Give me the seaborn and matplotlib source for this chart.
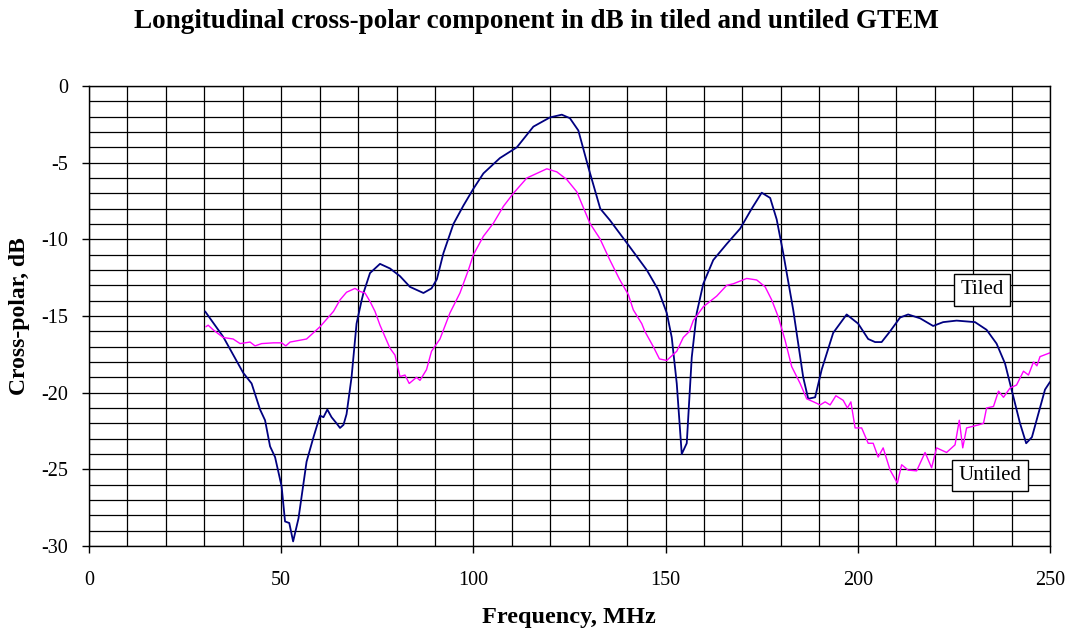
import matplotlib
matplotlib.use("Agg")
import matplotlib.pyplot as plt
import seaborn as sns
import numpy as np
import pandas as pd
from matplotlib.ticker import MultipleLocator

tiled_freq = [30.2, 34.9, 40.1, 42.3, 44.5, 45.8, 47.1, 48.4, 50.1, 51.0, 52.1, 53.1, 54.5,
              56.6, 58.4, 60.1, 61.0, 62.0, 63.1, 64.4, 65.3, 66.2, 67.0, 68.3, 69.6, 70.9,
              71.4, 73.1, 75.7, 78.3, 80.9, 83.5, 87.0, 89.1, 90.5, 92.2, 94.8, 97.4, 100.0,
              102.6, 106.9, 111.3, 115.6, 119.9, 123.0, 125.1, 127.3, 129.9, 133.0, 135.5,
              140.7, 145.1, 148.1, 150.3, 151.6, 152.9, 154.2, 155.5, 156.8, 158.1, 159.8,
              162.4, 165.9, 169.4, 172.4, 175.0, 177.2, 178.9, 180.6, 183.2, 185.8, 187.1,
              188.9, 190.6, 193.6, 197.1, 200.1, 202.7, 204.5, 206.2, 208.4, 211.0, 213.1,
              216.2, 219.6, 222.2, 225.7, 230.5, 233.5, 236.1, 238.3, 240.0, 242.2, 243.8,
              245.3, 247.0, 248.7, 250.0]
tiled_db = [-14.7, -16.35, -18.7, -19.4, -21.1, -21.8, -23.5, -24.2, -26.1, -28.4, -28.5, -29.7, -28.2,
            -24.5, -22.9, -21.5, -21.6, -21.1, -21.6, -22.0, -22.3, -22.1, -21.4, -19.0, -15.5, -14.0,
            -13.5, -12.2, -11.6, -11.9, -12.4, -13.1, -13.5, -13.2, -12.6, -10.9, -9.0, -7.8, -6.7,
            -5.7, -4.7, -4.0, -2.65, -2.05, -1.87, -2.1, -2.9, -5.3, -8.0, -8.75,
            -10.5, -12.0, -13.3, -14.8, -16.4, -19.4, -24.0, -23.3, -17.7, -14.8, -12.9,
            -11.35, -10.3, -9.3, -8.0, -6.96, -7.3, -8.7, -10.9, -14.6, -19.0, -20.4,
            -20.3, -18.5, -16.1, -14.9, -15.5, -16.5, -16.7, -16.7, -16.0, -15.1, -14.9,
            -15.15, -15.65, -15.4, -15.3, -15.4, -15.9, -16.8, -18.1, -19.8, -22.0, -23.3,
            -22.9, -21.35, -19.8, -19.3]

untiled_freq = [30.4, 31.0, 32.3, 34.9, 37.5, 39.3, 41.9, 43.2, 44.9, 48.0, 50.1, 51.2, 52.3,
                56.6, 60.1, 63.6, 65.3, 67.0, 69.2, 70.5, 71.8, 73.1, 74.4, 75.7, 77.0, 78.3,
                79.6, 80.9, 82.2, 83.3, 85.2, 86.1, 87.8, 89.1, 91.3, 93.9, 96.5, 98.7, 100.0,
                102.6, 105.2, 107.8, 110.4, 113.9, 116.5, 119.1, 121.7, 124.3, 126.9, 130.3,
                132.9, 135.5, 138.1, 140.3, 141.6, 143.8, 144.6, 146.8, 148.4, 150.3, 152.9,
                154.6, 156.2, 157.2, 159.8, 163.3, 165.9, 167.6, 171.1, 173.7, 175.9, 177.6,
                179.3, 181.1, 182.8, 184.1, 185.0, 186.7, 188.5, 190.2, 191.5, 192.8, 194.3,
                196.2, 197.3, 198.2, 199.3, 201.0, 202.7, 204.0, 205.3, 206.6, 208.4, 210.3,
                211.4, 213.1, 215.3, 217.5, 219.2, 220.5, 223.1, 225.3, 226.4, 227.3, 228.3,
                231.4, 232.7, 233.5, 235.3, 236.6, 237.9, 239.6, 241.3, 243.1, 244.4, 245.7,
                246.6, 247.4, 250.0]
untiled_db = [-15.7, -15.6, -15.9, -16.4, -16.5, -16.8, -16.7, -16.95, -16.8, -16.75, -16.75, -16.95, -16.7,
              -16.5, -15.7, -14.7, -13.95, -13.45, -13.2, -13.4, -13.5, -14.05, -14.7, -15.6, -16.35, -17.1,
              -17.55, -18.95, -18.85, -19.4, -19.0, -19.2, -18.5, -17.3, -16.5, -14.8, -13.5, -12.0, -11.0,
              -9.8, -8.95, -7.85, -7.0, -6.0, -5.7, -5.4, -5.6, -6.1, -6.9, -8.95,
              -9.95, -11.35, -12.65, -13.6, -14.6, -15.5, -16.0, -17.0, -17.8, -17.9, -17.3,
              -16.4, -16.0, -15.3, -14.4, -13.7, -13.0, -12.9, -12.55, -12.65, -13.1, -13.95,
              -15.05, -16.6, -18.3, -18.95, -19.4, -20.4, -20.6, -20.8, -20.6, -20.8, -20.2,
              -20.5, -21.0, -20.6, -22.3, -22.3, -23.3, -23.3, -24.2, -23.6, -25.05, -25.9,
              -24.7, -25.05, -25.1, -23.9, -24.9, -23.6, -23.9, -23.4, -21.8, -23.6, -22.3,
              -22.1, -22.0, -21.0, -20.9, -19.9, -20.3, -19.7, -19.5, -18.6, -18.85, -18.0,
              -18.25, -17.65, -17.4]

title = "Longitudinal cross-polar component in dB in tiled and untiled GTEM"
xlabel = "Frequency, MHz"
ylabel = "Cross-polar, dB"
series_labels = ["Tiled", "Untiled"]

sns.set_theme(style="white")
plt.rcParams['font.family'] = ['Liberation Serif', 'DejaVu Serif']
plt.rcParams['axes.unicode_minus'] = False
for k in ['text.color', 'axes.labelcolor', 'xtick.color', 'ytick.color']:
    plt.rcParams[k] = 'black'

fig = plt.figure(figsize=(10.73, 6.32), dpi=100)
ax = fig.add_axes([89/1073, 1-546/632, (1050-89)/1073, (546-86)/632])

sns.lineplot(x=tiled_freq, y=tiled_db, ax=ax, color="#000080", linewidth=1.3,
             sort=False, estimator=None)
sns.lineplot(x=untiled_freq, y=untiled_db, ax=ax, color="#FF00FF", linewidth=1.0,
             sort=False, estimator=None)

ax.set_xlim(0, 250)
ax.set_ylim(-30, 0)
ax.xaxis.set_major_locator(MultipleLocator(50))
ax.yaxis.set_major_locator(MultipleLocator(5))
ax.xaxis.set_minor_locator(MultipleLocator(10))
ax.yaxis.set_minor_locator(MultipleLocator(1))
ax.grid(True, which="both", color="black", linewidth=0.9)
ax.set_axisbelow(True)
for s in ax.spines.values():
    s.set_color("black")
    s.set_linewidth(1.0)
ax.tick_params(axis="both", which="major", direction="out", length=5, width=1,
               color="black", labelsize=14.5, bottom=True, left=True)
ax.tick_params(axis="x", which="major", pad=13)
ax.tick_params(axis="y", which="major", pad=10)
ax.tick_params(axis="both", which="minor", length=0)

ax.set_xlabel("")
ax.set_ylabel("")
fig.text(569/1073, 1-618/632, xlabel, ha="center", va="center", fontsize=17.5, fontweight="bold")
fig.text(20/1073, 1-316/632, ylabel, ha="center", va="center", rotation=90,
         fontsize=17, fontweight="bold")
fig.text(0.5, 1-22/632, title, ha="center", va="center", fontsize=19.5, fontweight="bold")

box = dict(boxstyle="square,pad=0.3", facecolor="white", edgecolor="black", linewidth=1)
ax.text(232.3, -13.3, series_labels[0], ha="center", va="center", fontsize=15, bbox=box)
ax.text(234.4, -25.4, series_labels[1], ha="center", va="center", fontsize=15, bbox=box)

fig.savefig("out.png", dpi=100, facecolor="white")
